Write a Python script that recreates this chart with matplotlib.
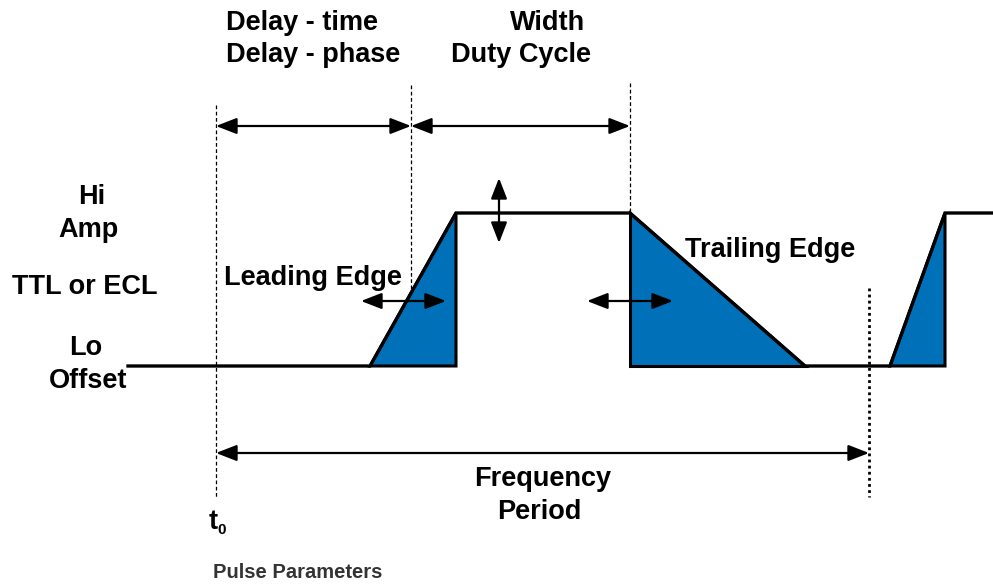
import matplotlib
matplotlib.use("Agg")
import matplotlib.pyplot as plt
from matplotlib.patches import Polygon

# waveform trace (pixel coordinates of the reference picture)
wave_x = [128, 370, 456, 630, 805, 890, 945, 993]
wave_y = [366, 366, 213, 213, 366, 366, 213, 213]

# shaded edge areas
edge_tris = [
    [(370, 366), (456, 213), (456, 366)],
    [(630, 213), (630, 366), (805, 366)],
    [(890, 366), (945, 213), (945, 366)],
]

# guide lines: x, y_top, y_bottom
guides = [(216, 105, 497), (411, 85, 290), (630, 83, 213)]
period_end = (869, 288, 497)

# dimension arrows: (x1, y1, x2, y2)
arrows = [
    (216, 126, 411, 126),
    (411, 126, 630, 126),
    (216, 453, 869, 453),
    (499, 178, 499, 243),
    (361, 301, 446, 301),
    (587, 301, 673, 301),
]

labels = [
    ("Delay - time", 226, 23, "left"),
    ("Delay - phase", 226, 55, "left"),
    ("Width", 548, 23, "center"),
    ("Duty Cycle", 521, 55, "center"),
    ("Hi", 92, 197, "center"),
    ("Amp", 88, 230, "center"),
    ("TTL or ECL", 85, 287, "center"),
    ("Lo", 86, 348, "center"),
    ("Offset", 88, 381, "center"),
    ("Leading Edge", 224, 278, "left"),
    ("Trailing Edge", 685, 250, "left"),
    ("Frequency", 543, 479, "center"),
    ("Period", 539, 512, "center"),
]
caption = "Pulse Parameters"

blue = "#0070b8"
font = "Liberation Sans"

fig = plt.figure(figsize=(9.93, 5.84), dpi=100)
ax = fig.add_axes([0, 0, 1, 1])
ax.set_xlim(0, 993)
ax.set_ylim(584, 0)
ax.axis("off")

for tri in edge_tris:
    ax.add_patch(Polygon(tri, closed=True, facecolor=blue, edgecolor="black",
                         linewidth=2.2, joinstyle="miter"))

ax.plot(wave_x, wave_y, color="black", linewidth=2.4, solid_joinstyle="miter")

for x, y0, y1 in guides:
    ax.plot([x, x], [y0, y1], color="black", linewidth=0.9, linestyle=(0, (3, 2)))
x, y0, y1 = period_end
ax.plot([x, x], [y0, y1], color="black", linewidth=2.0, linestyle=(0, (1, 1.2)))

for x1, y1, x2, y2 in arrows:
    ax.annotate("", xy=(x2, y2), xytext=(x1, y1),
                arrowprops=dict(arrowstyle="<|-|>,head_length=0.9,head_width=0.35",
                                color="black", linewidth=1.6,
                                shrinkA=0, shrinkB=0, mutation_scale=14))

for txt, x, y, ha in labels:
    ax.text(x, y, txt, ha=ha, va="center", fontsize=19.5, fontweight="bold",
            family=font, color="black")

ax.text(213, 522, "t", ha="center", va="center", fontsize=19.5,
        fontweight="bold", family=font)
ax.text(222, 530, "0", ha="center", va="center", fontsize=11,
        fontweight="bold", family=font)

ax.text(213, 573, caption, ha="left", va="center", fontsize=14.5,
        fontweight="bold", family=font, color="#333333")

fig.savefig("out.png", dpi=100)
